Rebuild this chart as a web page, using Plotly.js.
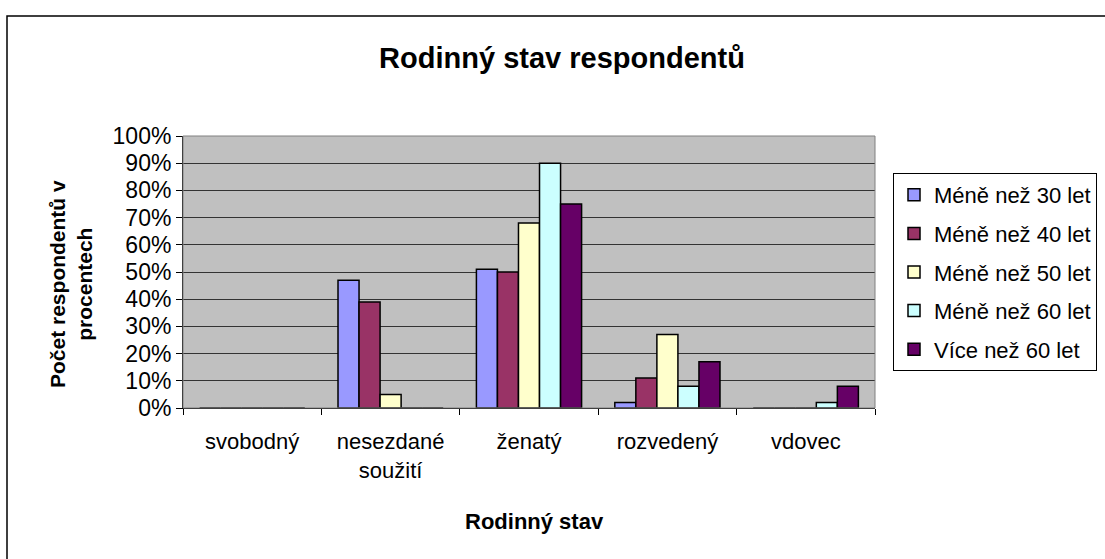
<!DOCTYPE html>
<html>
<head>
<meta charset="utf-8">
<script src="https://cdn.plot.ly/plotly-3.0.1.min.js"></script>
<style>html,body{margin:0;padding:0;background:#fff;}#chart{width:1105px;height:559px;}</style>
</head>
<body>
<div id="chart"></div>
<script>
const categories = ["svobodný", "nesezdané<br>soužití", "ženatý", "rozvedený", "vdovec"];
const seriesNames = ["Méně než 30 let", "Méně než 40 let", "Méně než 50 let", "Méně než 60 let", "Více než 60 let"];
const under30 = [0, 47, 51, 2, 0];
const under40 = [0, 39, 50, 11, 0];
const under50 = [0, 5, 68, 27, 0];
const under60 = [0, 0, 90, 8, 2];
const over60 = [0, 0, 75, 17, 8];
const seriesColors = ["#9999FF", "#993366", "#FFFFCC", "#CCFFFF", "#660066"];
const yTicks = [0, 10, 20, 30, 40, 50, 60, 70, 80, 90, 100];

const values = [under30, under40, under50, under60, over60];
const traces = values.map((v, i) => ({
  type: "bar",
  x: categories,
  y: v,
  name: seriesNames[i],
  legendgroup: "g" + i,
  marker: {color: seriesColors[i], line: {color: "#000", width: 1.5}},
  hoverinfo: "skip"
}));

const font = "Arial, 'Liberation Sans', sans-serif";
const layout = {
  width: 1105, height: 559,
  margin: {l: 183, r: 230, t: 136, b: 151, autoexpand: false},
  paper_bgcolor: "#fff",
  plot_bgcolor: "#C0C0C0",
  font: {family: font, color: "#000", size: 23},
  barmode: "group",
  bargap: 0.24,
  bargroupgap: 0,
  showlegend: true,
  title: {text: "<b>Rodinný stav respondentů</b>", font: {size: 29, family: font, color: "#000"},
          x: 562 / 1105, xanchor: "center", xref: "container", y: 1 - 58/559, yanchor: "middle", yref: "container"},
  xaxis: {
    type: "category",
    showgrid: false,
    showline: true, linecolor: "#000", linewidth: 1,
    ticks: "outside", ticklen: 6, tickcolor: "#000", tickson: "boundaries",
    tickfont: {size: 22},
    ticklabelstandoff: 14,
    tickangle: 0,
    zeroline: false
  },
  yaxis: {
    range: [0, 100],
    tickvals: yTicks,
    ticktext: yTicks.map(t => t + "%"),
    ticks: "outside", ticklen: 6, tickcolor: "#000",
    showgrid: true, gridcolor: "#333", gridwidth: 1,
    showline: true, linecolor: "#000", linewidth: 1,
    zeroline: false,
    tickfont: {size: 23}
  },
  legend: {
    x: (893 - 183) / 692, xanchor: "left",
    y: (408 - 173) / 272, yanchor: "top",
    bordercolor: "#000", borderwidth: 1,
    bgcolor: "#fff",
    font: {size: 22},
    traceorder: "grouped",
    tracegroupgap: 7
  },
  shapes: [
    {type: "rect", xref: "paper", yref: "paper", x0: 0, x1: 1, y0: 0, y1: 1, line: {color: "#808080", width: 1}},
    {type: "rect", xref: "paper", yref: "paper", x0: (7 - 183) / 692, x1: 1.5, y0: (408 - 16) / 272, y1: -1,
     line: {color: "#000", width: 1.5}, fillcolor: "rgba(0,0,0,0)", layer: "below"}
  ],
  annotations: [
    {text: "<b>Počet respondentů v<br>procentech</b>", xref: "paper", yref: "paper",
     x: (71 - 183) / 692, y: (408 - 284) / 272, xanchor: "center", yanchor: "middle",
     textangle: -90, showarrow: false, font: {size: 21}},
    {text: "<b>Rodinný stav</b>", xref: "paper", yref: "paper",
     x: (534 - 183) / 692, y: (408 - 521) / 272, xanchor: "center", yanchor: "middle",
     showarrow: false, font: {size: 22}}
  ]
};

Plotly.newPlot("chart", traces, layout, {displayModeBar: false, staticPlot: true});
</script>
</body>
</html>
